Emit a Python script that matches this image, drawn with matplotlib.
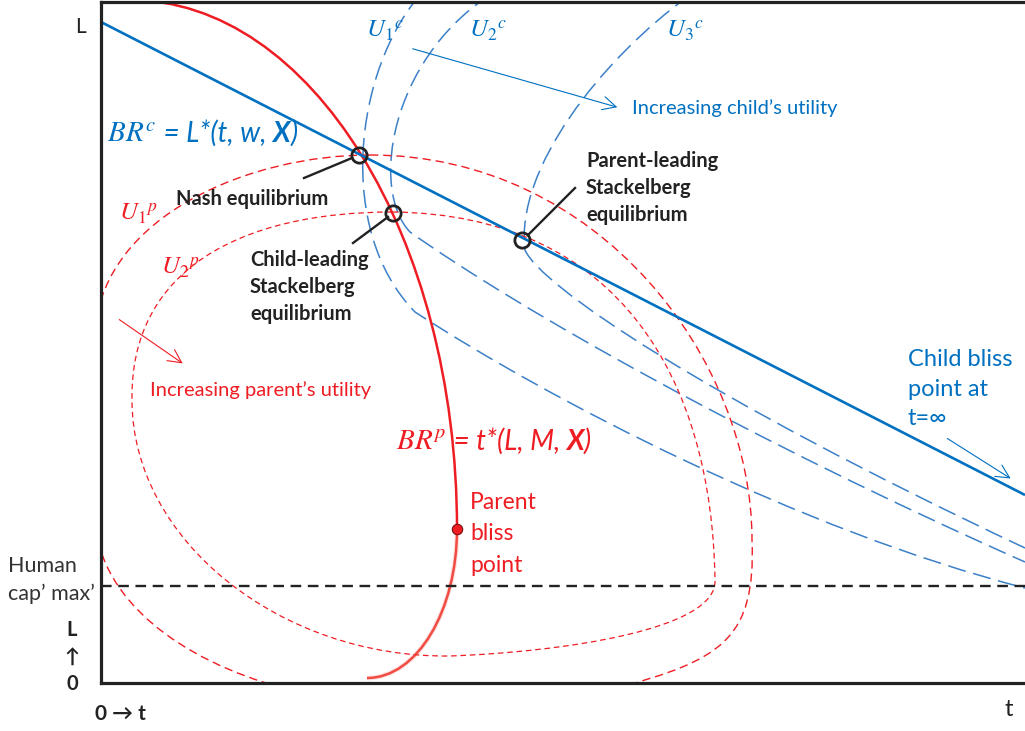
"""Parent/child best-response diagram with Nash and Stackelberg equilibria."""

import matplotlib
matplotlib.use("Agg")
import matplotlib.pyplot as plt
from matplotlib.path import Path
from matplotlib.patches import PathPatch, FancyArrowPatch
from matplotlib.offsetbox import TextArea, HPacker, AnnotationBbox

plt.rcParams["font.family"] = ["Lato", "DejaVu Sans"]
plt.rcParams["mathtext.fontset"] = "stix"

# canvas units: one unit is one pixel of the reference, L grows downward
W, H = 1025, 731
X0, Y0, YTOP = 101, 683, 2

# child best response BR^c (straight line)
brc_t = [101, 1025]
brc_L = [22, 495]

# parent best response BR^p: start point + cubic bezier triples
brp_upper = [(130, 0), (311, 0), (457, 237), (457, 529)]
brp_lower = [(457, 529), (457, 611), (417, 678), (367, 678)]

# child indifference curves U1c..U3c
u1c = [(420, -5), (355, 70), (335, 230), (415, 312),
       (550, 400), (800, 530), (1025, 588)]
u2c = [(490, -5), (390, 60), (370, 190), (410, 232),
       (520, 310), (750, 440), (1025, 562)]
u3c = [(690, -5), (600, 60), (515, 170), (525, 250),
       (540, 285), (700, 395), (1025, 548)]

# parent indifference curves U1p (outer, partly clipped) and U2p (inner, closed)
u1p = [(370, 155), (600, 155), (752, 360), (752, 540),
       (756, 640), (720, 660), (617, 688),
       (500, 688), (400, 688), (283, 688),
       (180, 660), (100, 600), (95, 520),
       (95, 450), (95, 400), (95, 330),
       (105, 215), (250, 155), (370, 155)]
u2p = [(393, 212), (620, 215), (712, 380), (715, 580),
       (718, 630), (560, 652), (450, 656),
       (280, 658), (132, 540), (132, 400),
       (130, 270), (240, 212), (393, 212)]

human_cap = 586

equilibria_t = [359, 393, 522]
equilibria_L = [155, 213, 240]
bliss = (457, 529)

nash_leader = [(304, 178), (352, 158)]
child_leader = [(353, 243), (388, 217)]
parent_leader = [(575, 188), (528, 235)]

child_arrow = [(410, 48), (620, 108)]
parent_arrow = [(117, 318), (185, 365)]
bliss_arrow = [(945, 437), (1013, 480)]

BLUE = "#0070C0"
BLUE_D = "#3C80C8"
RED = "#EE1D23"
INK = "#222222"


def bezier(ax, pts, **kw):
    codes = [Path.MOVETO] + [Path.CURVE4] * (len(pts) - 1)
    ax.add_patch(PathPatch(Path(pts, codes), fill=False, **kw))


def rich(ax, xy, parts, color):
    boxes = [TextArea(s, textprops=dict(color=color, **p)) for s, p in parts]
    pack = HPacker(children=boxes, align="baseline", pad=0, sep=0)
    ab = AnnotationBbox(pack, xy, xycoords="data", box_alignment=(0, 0),
                        frameon=False, pad=0, annotation_clip=False)
    ax.add_artist(ab)


fig = plt.figure(figsize=(W / 100, H / 100), dpi=100)
ax = fig.add_axes([X0 / W, (H - Y0) / H, (W - X0) / W, (Y0 - YTOP) / H])
ax.set_xlim(X0, W)
ax.set_ylim(Y0, YTOP)
ax.set_xticks([])
ax.set_yticks([])
for s in ("left", "bottom", "top"):
    ax.spines[s].set_linewidth(2.3)
    ax.spines[s].set_color(INK)
ax.spines["right"].set_visible(False)

# indifference curves
for pts in (u1c, u2c, u3c):
    bezier(ax, pts, edgecolor=BLUE_D, lw=1.1, linestyle=(0, (12, 5)))
bezier(ax, u1p, edgecolor=RED, lw=1.0, linestyle=(0, (6, 3.5)))
bezier(ax, u2p, edgecolor=RED, lw=0.9, linestyle=(0, (4.5, 3)))

# human capital max
ax.axhline(human_cap, color=INK, lw=1.7, linestyle=(0, (4.5, 2.8)))

# best responses
ax.plot(brc_t, brc_L, color=BLUE, lw=1.9, solid_capstyle="butt")
bezier(ax, brp_upper, edgecolor=RED, lw=1.8)
bezier(ax, brp_lower, edgecolor=RED, lw=3.5, alpha=0.12)
bezier(ax, brp_lower, edgecolor="#F03A30", lw=1.8, alpha=0.9)

# equilibria and bliss point
ax.plot(equilibria_t, equilibria_L, "o", ms=11, mfc="none", mec=INK, mew=2)
ax.plot(*bliss, "o", ms=7.5, mfc=RED, mec="#7a1010", mew=0.8)
for seg in (nash_leader, child_leader, parent_leader):
    ax.plot(*zip(*seg), color=INK, lw=1.7)

for seg, col in ((child_arrow, BLUE), (parent_arrow, RED), (bliss_arrow, BLUE)):
    ax.add_patch(FancyArrowPatch(seg[0], seg[1], arrowstyle="->,head_length=0.8,head_width=0.4",
                                 mutation_scale=12, color=col, lw=0.8))

# curve labels
for x, lab in ((366, r"$U_1{}^c$"), (469, r"$U_2{}^c$"), (666, r"$U_3{}^c$")):
    ax.text(x, 37, lab, color=BLUE, fontsize=18, va="baseline")
ax.text(119, 220, r"$U_1{}^p$", color=RED, fontsize=18, va="baseline")
ax.text(161, 274, r"$U_2{}^p$", color=RED, fontsize=18, va="baseline")

it = dict(fontsize=20, style="italic")
bi = dict(fontsize=20, style="italic", weight="bold")
rich(ax, (107, 147), [(r"$BR^c$", dict(fontsize=21)), (" = L*(t, w, ", it),
                      ("X", bi), (")", it)], BLUE)
rich(ax, (396, 455), [(r"$BR^p$", dict(fontsize=21)), (" = t*(L, M, ", it),
                      ("X", bi), (")", it)], RED)

bold = dict(color=INK, fontsize=14.5, weight="bold", linespacing=1.44)
ax.text(176, 199, "Nash equilibrium", va="center", **bold)
ax.text(250, 287, "Child-leading\nStackelberg\nequilibrium", va="center", **bold)
ax.text(586, 188, "Parent-leading\nStackelberg\nequilibrium", va="center", **bold)

ax.text(632, 108, "Increasing child\u2019s utility", color=BLUE, fontsize=14.5, va="center")
ax.text(150, 390, "Increasing parent\u2019s utility", color=RED, fontsize=14.5, va="center")
ax.text(470, 534, "Parent\nbliss\npoint", color=RED, fontsize=16.5, va="center",
        linespacing=1.6)
ax.text(908, 389, "Child bliss\npoint at\nt=\u221e", color=BLUE, fontsize=17,
        va="center", linespacing=1.51)

ax.text(86, 27, "L", color=INK, fontsize=15, ha="right", va="center")
ax.text(8, 580, "Human\ncap\u2019 max\u2019", color="#333333", fontsize=15.5,
        va="center", linespacing=1.52)
ax.text(72, 657, "L\n\u2191\n0", color=INK, fontsize=14.5, weight="bold",
        ha="center", va="center", linespacing=1.45)
ax.text(95, 714, "0 \u2192 t", color=INK, fontsize=15, weight="bold", va="center")
ax.text(1009, 709, "t", color=INK, fontsize=17, ha="center", va="center")

fig.savefig("out.png", dpi=100)
